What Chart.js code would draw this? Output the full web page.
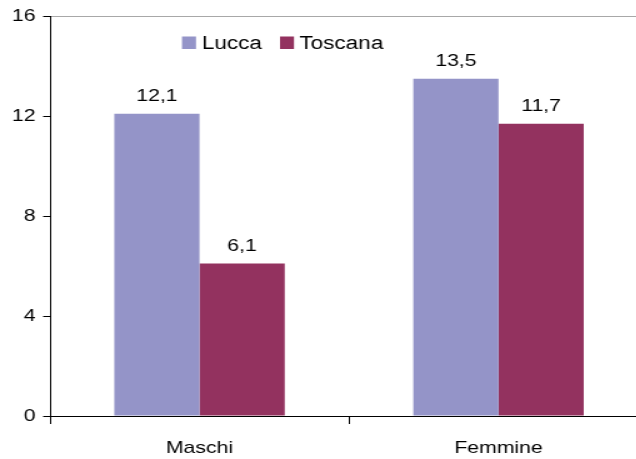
<!DOCTYPE html>
<html>
<head>
<meta charset="utf-8">
<script src="https://cdn.jsdelivr.net/npm/chart.js@4/dist/chart.umd.min.js"></script>
<style>
  html, body { margin: 0; padding: 0; background: #fff; overflow: hidden; }
  #wrap { width: 520px; height: 459px; transform: scaleX(1.25); transform-origin: 0 0; }
  canvas { display: block; }
</style>
</head>
<body>
<div id="wrap"><canvas id="c" width="520" height="459"></canvas></div>
<script>
const categories = ['Maschi', 'Femmine'];
const seriesNames = ['Lucca', 'Toscana'];
const luccaValues = [12.1, 13.5];
const toscanaValues = [6.1, 11.7];
const yTickValues = [0, 4, 8, 12, 16];

const colors = ['#9494C8', '#93325F'];
const FONT = '"Liberation Sans", Arial, sans-serif';

const fmt = v => String(v).replace('.', ',');

// value labels above each bar
const valueLabels = {
  id: 'valueLabels',
  afterDatasetsDraw(chart) {
    const ctx = chart.ctx;
    ctx.save();
    ctx.font = '17px ' + FONT;
    ctx.fillStyle = '#000';
    ctx.textAlign = 'center';
    ctx.textBaseline = 'alphabetic';
    chart.data.datasets.forEach((ds, i) => {
      chart.getDatasetMeta(i).data.forEach((bar, j) => {
        ctx.fillText(fmt(ds.data[j]), bar.x, bar.y - 13);
      });
    });
    ctx.restore();
  }
};

// legend drawn inside the plot area
const innerLegend = {
  id: 'innerLegend',
  afterDraw(chart) {
    const ctx = chart.ctx;
    const pos = [{ box: 145.6, text: 161.6 }, { box: 224, text: 239.6 }];
    ctx.save();
    ctx.font = '18px ' + FONT;
    ctx.textBaseline = 'alphabetic';
    ctx.textAlign = 'left';
    chart.data.datasets.forEach((ds, i) => {
      ctx.fillStyle = ds.backgroundColor;
      ctx.fillRect(pos[i].box, 36.5, 11.2, 12.5);
      ctx.fillStyle = '#000';
      ctx.fillText(ds.label, pos[i].text, 49.3);
    });
    ctx.restore();
  }
};

new Chart(document.getElementById('c'), {
  type: 'bar',
  data: {
    labels: categories,
    datasets: [
      { label: seriesNames[0], data: luccaValues, backgroundColor: colors[0], barPercentage: 1.0, categoryPercentage: 0.57 },
      { label: seriesNames[1], data: toscanaValues, backgroundColor: colors[1], barPercentage: 1.0, categoryPercentage: 0.57 }
    ]
  },
  options: {
    responsive: false,
    animation: false,
    devicePixelRatio: 1,
    layout: { padding: { top: 15.5, right: 1.6, left: 0, bottom: 0 } },
    plugins: {
      legend: { display: false },
      tooltip: { enabled: false }
    },
    scales: {
      x: {
        grid: { offset: true, drawOnChartArea: false, color: '#000', tickColor: '#000', tickLength: 8 },
        border: { color: '#000', width: 1 },
        ticks: { color: '#000', font: { family: FONT, size: 17 }, padding: 14, maxRotation: 0 },
        afterFit: s => { s.height = 43; }
      },
      y: {
        min: 0,
        max: 16,
        afterBuildTicks: s => { s.ticks = yTickValues.map(v => ({ value: v })); },
        grid: {
          color: c => (c.tick && c.tick.value === 16 ? '#a8a8a8' : 'rgba(0,0,0,0)'),
          tickColor: '#000',
          tickLength: 5.5
        },
        border: { color: '#000', width: 1 },
        ticks: { color: '#000', font: { family: FONT, size: 17 }, padding: 6, callback: v => fmt(v) },
        afterFit: s => { s.width = 40; }
      }
    }
  },
  plugins: [valueLabels, innerLegend]
});
</script>
</body>
</html>
